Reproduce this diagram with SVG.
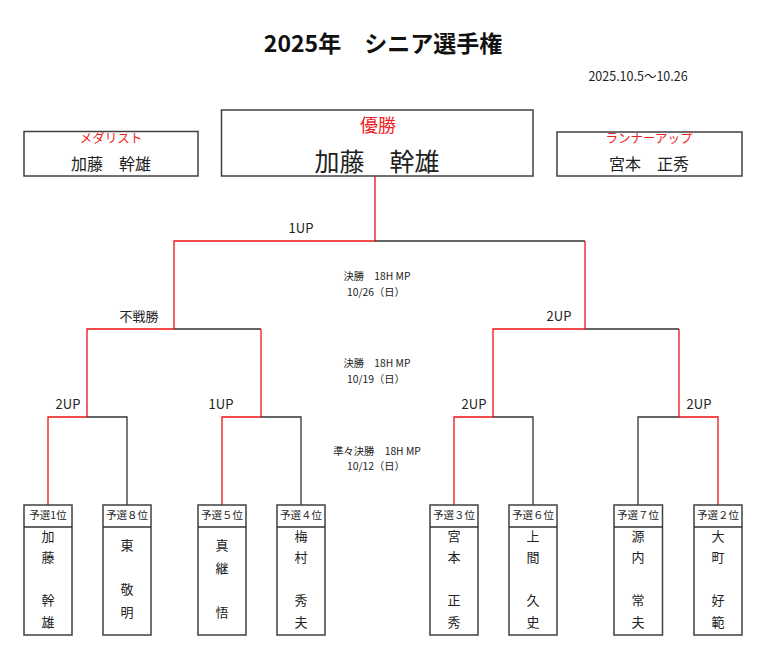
<svg xmlns="http://www.w3.org/2000/svg" width="768" height="658" viewBox="0 0 768 658">
<style>
text{font-family:"Noto Sans CJK JP","Noto Sans",sans-serif;fill:#222;text-anchor:middle;dominant-baseline:central}
.box{fill:#fff;stroke:#404040;stroke-width:1.5}
.r{stroke:#ee1111;stroke-width:1.3;fill:none}
.k{stroke:#333;stroke-width:1.3;fill:none}
.red{fill:#ee2222}
.lbl{font-size:13px}
.info{font-size:10.3px}
.hd{font-size:10.5px}
.nm{font-size:13px}
</style>
<rect width="768" height="658" fill="#fff"/>
<g id="title">
<text x="383" y="41.5" style="font-size:23px;font-weight:bold;fill:#111">2025年　シニア選手権</text>
<text x="638" y="75.5" style="font-size:12.5px">2025.10.5～10.26</text>
</g>
<g id="connectors">
<path class="r" d="M375,176V241H174V329"/>
<path class="k" d="M375,241H585"/>
<path class="r" d="M585,241V329"/>
<path class="r" d="M174,329H87V417"/>
<path class="k" d="M174,329H261"/>
<path class="r" d="M261,329V417"/>
<path class="r" d="M585,329H493V417"/>
<path class="k" d="M585,329H679"/>
<path class="r" d="M679,329V417"/>
<path class="r" d="M87,417H48V505"/>
<path class="k" d="M87,417H127V505"/>
<path class="r" d="M261,417H222V505"/>
<path class="k" d="M261,417H301V505"/>
<path class="r" d="M493,417H454V505"/>
<path class="k" d="M493,417H533V505"/>
<path class="k" d="M679,417H638V505"/>
<path class="r" d="M679,417H718V505"/>
</g>
<g id="results">
<text class="lbl" x="301" y="227.5">1UP</text>
<text class="lbl" x="139" y="315.5">不戦勝</text>
<text class="lbl" x="559" y="315.5">2UP</text>
<text class="lbl" x="68" y="403.5">2UP</text>
<text class="lbl" x="221" y="403.5">1UP</text>
<text class="lbl" x="474" y="403.5">2UP</text>
<text class="lbl" x="699" y="403.5">2UP</text>
</g>
<g id="rounds">
<text class="info" x="377" y="275.5">決勝　18H MP</text>
<text class="info" x="376" y="291.5">10/26（日）</text>
<text class="info" x="377" y="362.5">決勝　18H MP</text>
<text class="info" x="376" y="378.5">10/19（日）</text>
<text class="info" x="377" y="450.5">準々決勝　18H MP</text>
<text class="info" x="376" y="465.5">10/12（日）</text>
</g>
<g id="medalist">
<rect class="box" x="24" y="131.5" width="174" height="44.5"/>
<text class="red" x="111" y="137.5" style="font-size:12.5px">メダリスト</text>
<text x="111" y="162.5" style="font-size:16px">加藤　幹雄</text>
</g>
<g id="winner">
<rect class="box" x="221.5" y="110" width="311.5" height="66"/>
<text class="red" x="378" y="123.5" style="font-size:18px">優勝</text>
<text x="377" y="160" style="font-size:25px">加藤　幹雄</text>
</g>
<g id="runnerup">
<rect class="box" x="557" y="132" width="185" height="44"/>
<text class="red" x="649" y="137.5" style="font-size:12.5px">ランナーアップ</text>
<text x="649" y="162.5" style="font-size:16px">宮本　正秀</text>
</g>
<g id="p1">
<rect class="box" x="24" y="505" width="48" height="130"/><path class="k" d="M24,527H72"/>
<text class="hd" x="48" y="514.5">予選1位</text>
<text class="nm" x="48" y="535.5">加</text><text class="nm" x="48" y="556.5">藤</text><text class="nm" x="48" y="599.5">幹</text><text class="nm" x="48" y="621.5">雄</text>
</g>
<g id="p8">
<rect class="box" x="103" y="505" width="48" height="130"/><path class="k" d="M103,527H151"/>
<text class="hd" x="127" y="514.5">予選８位</text>
<text class="nm" x="127" y="544.5">東</text><text class="nm" x="127" y="588.5">敬</text><text class="nm" x="127" y="611.5">明</text>
</g>
<g id="p5">
<rect class="box" x="198" y="505" width="48" height="130"/><path class="k" d="M198,527H246"/>
<text class="hd" x="222" y="514.5">予選５位</text>
<text class="nm" x="222" y="544.5">真</text><text class="nm" x="222" y="567.5">継</text><text class="nm" x="222" y="611.5">悟</text>
</g>
<g id="p4">
<rect class="box" x="277" y="505" width="48" height="130"/><path class="k" d="M277,527H325"/>
<text class="hd" x="301" y="514.5">予選４位</text>
<text class="nm" x="301" y="535.5">梅</text><text class="nm" x="301" y="556.5">村</text><text class="nm" x="301" y="599.5">秀</text><text class="nm" x="301" y="621.5">夫</text>
</g>
<g id="p3">
<rect class="box" x="430" y="505" width="48" height="130"/><path class="k" d="M430,527H478"/>
<text class="hd" x="454" y="514.5">予選３位</text>
<text class="nm" x="454" y="535.5">宮</text><text class="nm" x="454" y="556.5">本</text><text class="nm" x="454" y="599.5">正</text><text class="nm" x="454" y="621.5">秀</text>
</g>
<g id="p6">
<rect class="box" x="509" y="505" width="48" height="130"/><path class="k" d="M509,527H557"/>
<text class="hd" x="533" y="514.5">予選６位</text>
<text class="nm" x="533" y="535.5">上</text><text class="nm" x="533" y="556.5">間</text><text class="nm" x="533" y="599.5">久</text><text class="nm" x="533" y="621.5">史</text>
</g>
<g id="p7">
<rect class="box" x="614" y="505" width="48.5" height="130"/><path class="k" d="M614,527H662.5"/>
<text class="hd" x="638" y="514.5">予選７位</text>
<text class="nm" x="638" y="535.5">源</text><text class="nm" x="638" y="556.5">内</text><text class="nm" x="638" y="599.5">常</text><text class="nm" x="638" y="621.5">夫</text>
</g>
<g id="p2">
<rect class="box" x="694" y="505" width="48" height="130"/><path class="k" d="M694,527H742"/>
<text class="hd" x="718" y="514.5">予選２位</text>
<text class="nm" x="718" y="535.5">大</text><text class="nm" x="718" y="556.5">町</text><text class="nm" x="718" y="599.5">好</text><text class="nm" x="718" y="621.5">範</text>
</g>
</svg>
